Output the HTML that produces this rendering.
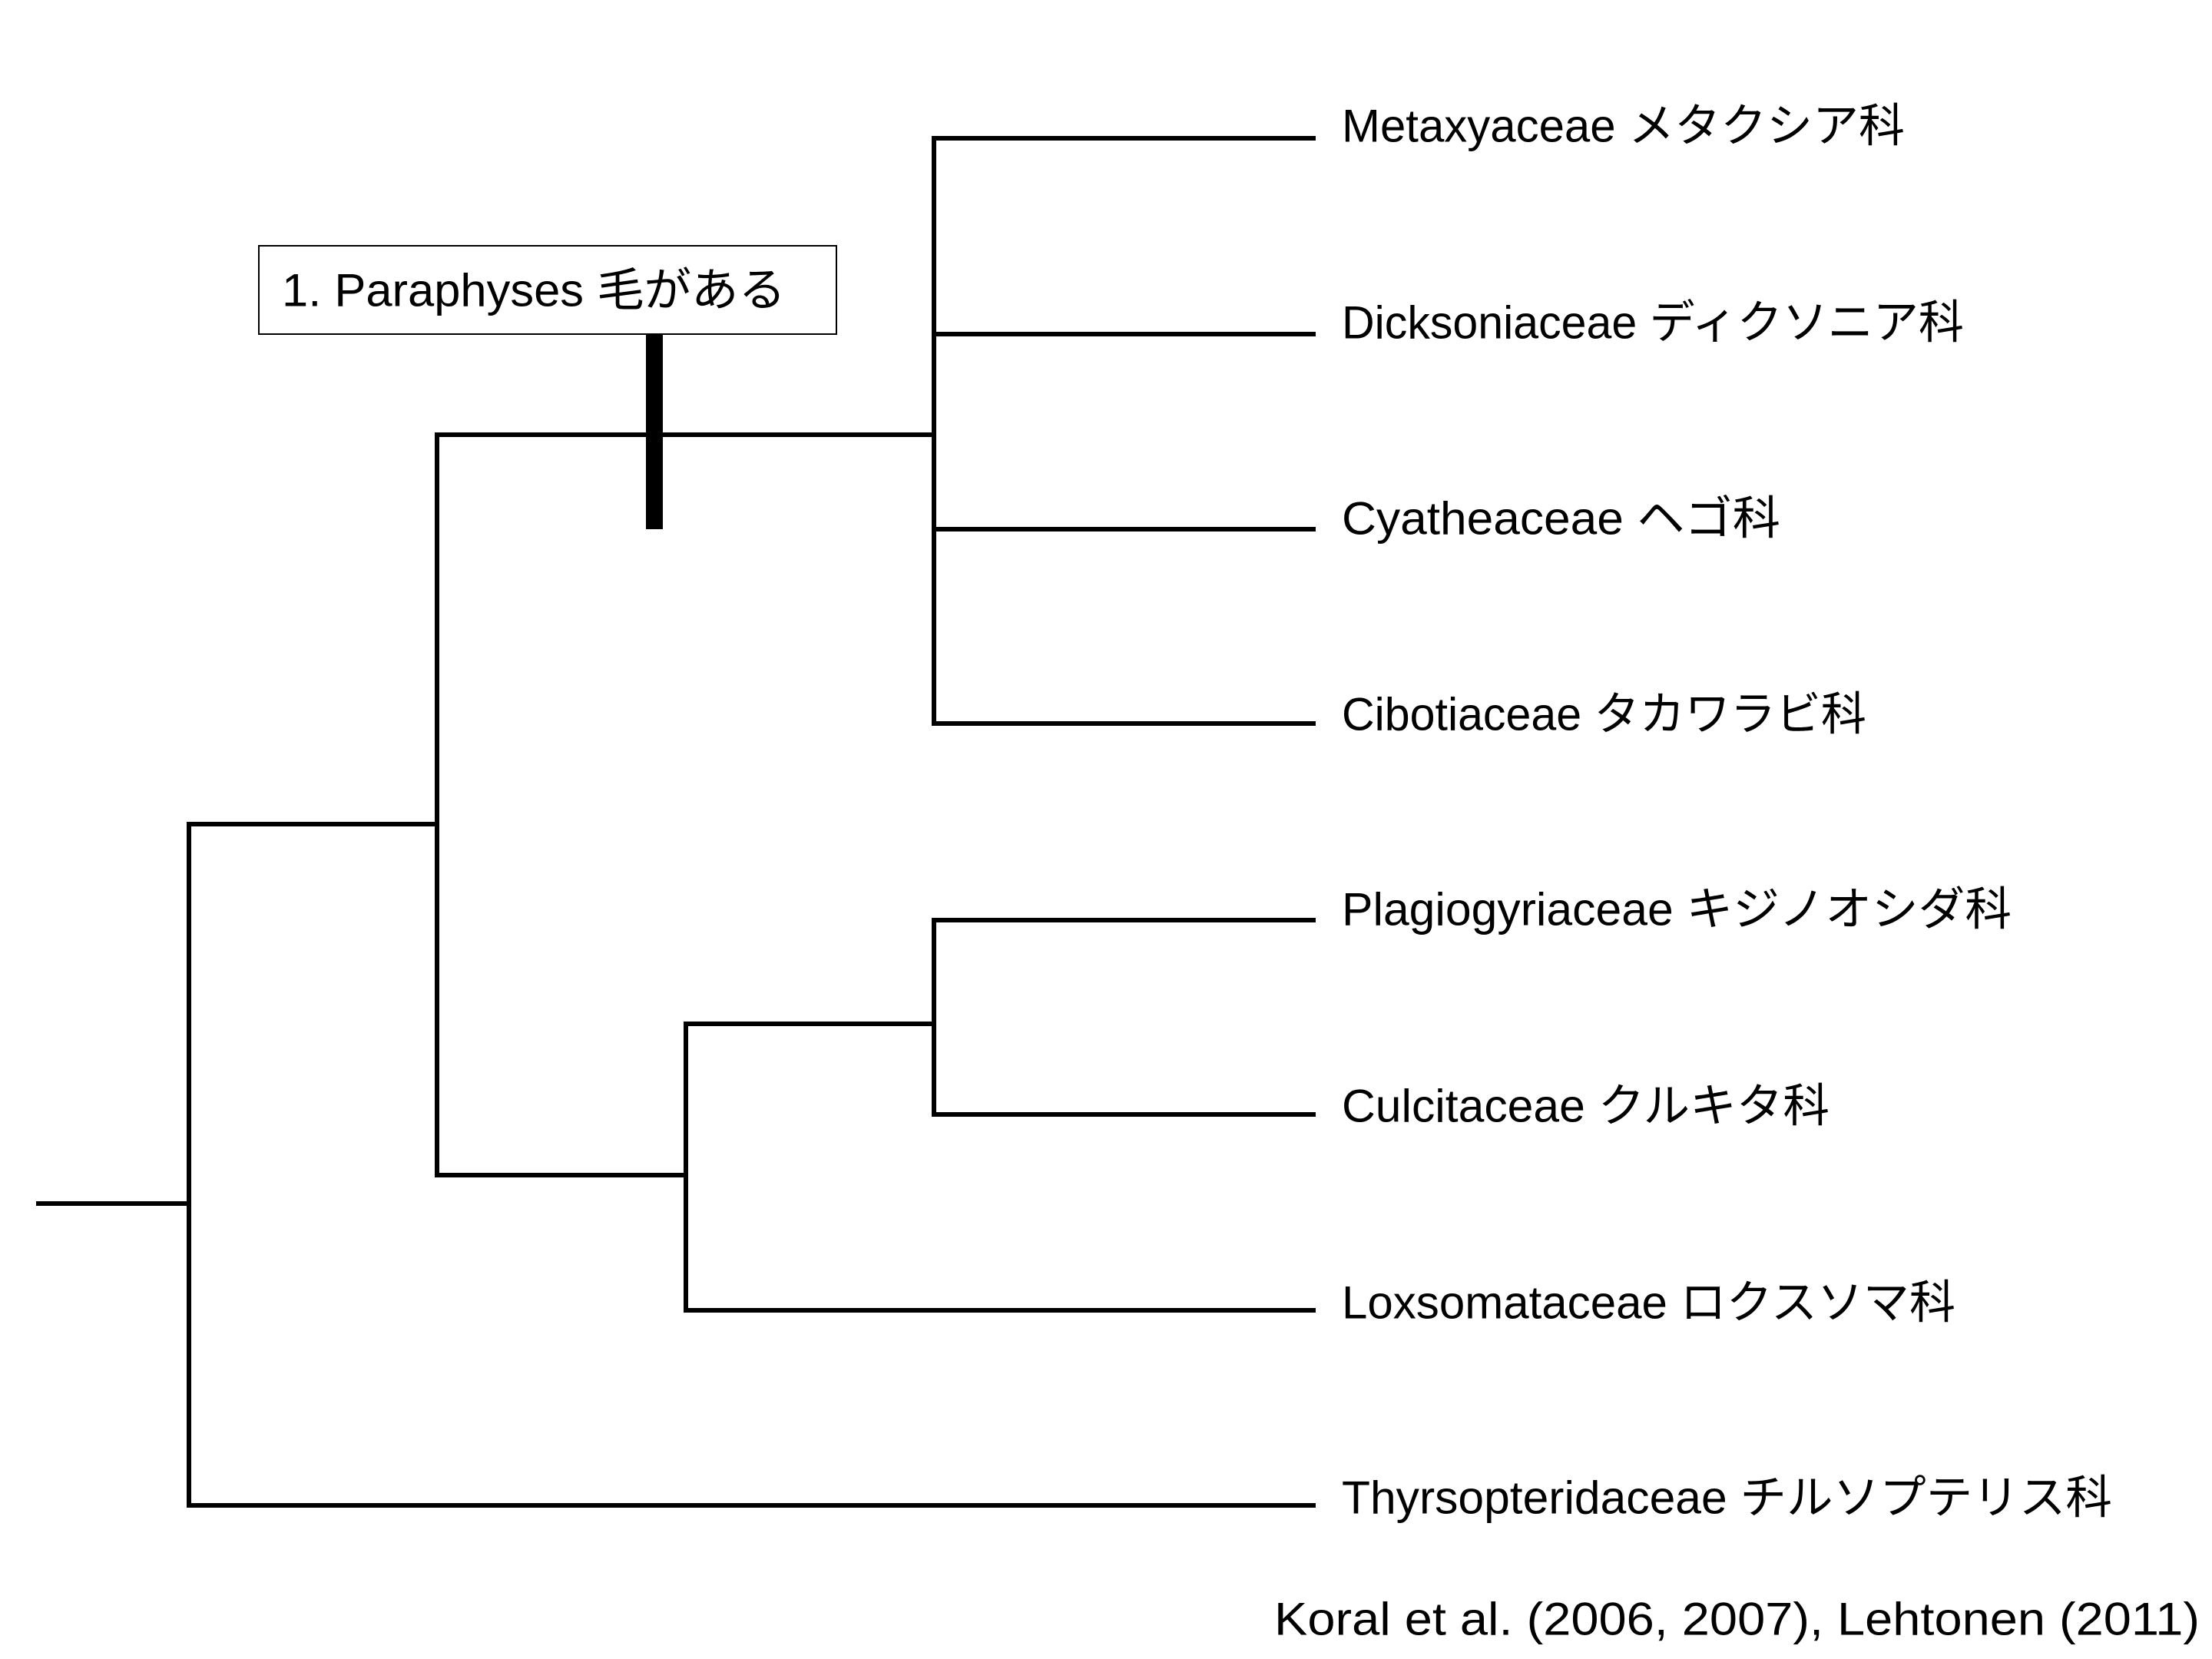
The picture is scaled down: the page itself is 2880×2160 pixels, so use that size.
<!DOCTYPE html>
<html><head><meta charset="utf-8"><style>html,body{margin:0;padding:0;background:#fff}svg{display:block}</style></head>
<body>
<svg width="2880" height="2160" viewBox="0 0 2880 2160" xmlns="http://www.w3.org/2000/svg">
<rect width="2880" height="2160" fill="#fff"/>
<g stroke="#000" stroke-width="6" fill="none" stroke-linecap="square">
<line x1="50" y1="1567" x2="246" y2="1567"/>
<line x1="246" y1="1073" x2="246" y2="1960"/>
<line x1="246" y1="1073" x2="569" y2="1073"/>
<line x1="569" y1="566" x2="569" y2="1530"/>
<line x1="569" y1="566" x2="1216" y2="566"/>
<line x1="569" y1="1530" x2="893" y2="1530"/>
<line x1="1216" y1="180" x2="1216" y2="942"/>
<line x1="1216" y1="180" x2="1710" y2="180"/>
<line x1="1216" y1="435" x2="1710" y2="435"/>
<line x1="1216" y1="689" x2="1710" y2="689"/>
<line x1="1216" y1="942" x2="1710" y2="942"/>
<line x1="893" y1="1333" x2="893" y2="1706"/>
<line x1="893" y1="1333" x2="1216" y2="1333"/>
<line x1="893" y1="1706" x2="1710" y2="1706"/>
<line x1="1216" y1="1198" x2="1216" y2="1451"/>
<line x1="1216" y1="1198" x2="1710" y2="1198"/>
<line x1="1216" y1="1451" x2="1710" y2="1451"/>
<line x1="246" y1="1960" x2="1710" y2="1960"/>
</g>
<rect x="841" y="435" width="22" height="254" fill="#000"/>
<rect x="337" y="320" width="752" height="115" fill="#fff" stroke="#000" stroke-width="2"/>
<g font-family="'Liberation Sans','Noto Sans CJK JP',sans-serif" font-size="60" fill="#000" dominant-baseline="central">
<text x="367" y="378" textLength="656" lengthAdjust="spacingAndGlyphs">1. Paraphyses 毛がある</text>
<text x="1747" y="164" textLength="733" lengthAdjust="spacingAndGlyphs">Metaxyaceae メタクシア科</text>
<text x="1747" y="420" textLength="810" lengthAdjust="spacingAndGlyphs">Dicksoniaceae ディクソニア科</text>
<text x="1747" y="675" textLength="571" lengthAdjust="spacingAndGlyphs">Cyatheaceae ヘゴ科</text>
<text x="1747" y="930" textLength="683" lengthAdjust="spacingAndGlyphs">Cibotiaceae タカワラビ科</text>
<text x="1747" y="1184" textLength="872" lengthAdjust="spacingAndGlyphs">Plagiogyriaceae キジノオシダ科</text>
<text x="1747" y="1440" textLength="635" lengthAdjust="spacingAndGlyphs">Culcitaceae クルキタ科</text>
<text x="1747" y="1696" textLength="799" lengthAdjust="spacingAndGlyphs">Loxsomataceae ロクスソマ科</text>
<text x="1747" y="1950" textLength="1003" lengthAdjust="spacingAndGlyphs">Thyrsopteridaceae チルソプテリス科</text>
<text x="1659" y="2108" textLength="1205" lengthAdjust="spacingAndGlyphs">Koral et al. (2006, 2007), Lehtonen (2011)</text>
</g>
</svg>
</body></html>
